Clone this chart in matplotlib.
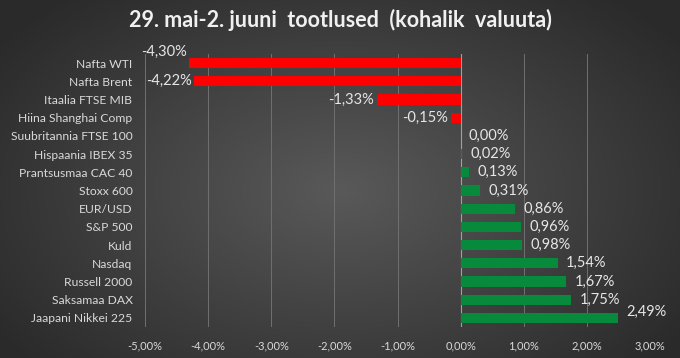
import numpy as np
import matplotlib
matplotlib.use("Agg")
import matplotlib.pyplot as plt
from matplotlib.colors import LinearSegmentedColormap

categories = ["Nafta WTI", "Nafta Brent", "Itaalia FTSE MIB", "Hiina Shanghai Comp",
              "Suubritannia FTSE 100", "Hispaania IBEX 35", "Prantsusmaa CAC 40",
              "Stoxx 600", "EUR/USD", "S&P 500", "Kuld", "Nasdaq", "Russell 2000",
              "Saksamaa DAX", "Jaapani Nikkei 225"]
values = [-4.30, -4.22, -1.33, -0.15, 0.00, 0.02, 0.13, 0.31, 0.86, 0.96, 0.98,
          1.54, 1.67, 1.75, 2.49]
xticks = [-5, -4, -3, -2, -1, 0, 1, 2, 3]
title = "29. mai-2. juuni  tootlused  (kohalik  valuuta)"

plt.rcParams['font.family'] = ['Lato', 'DejaVu Sans']

fig = plt.figure(figsize=(6.8, 3.58), dpi=100)

# radial gradient background
bg = fig.add_axes([0, 0, 1, 1], zorder=0)
yy, xx = np.mgrid[0:358, 0:680]
r = np.sqrt(((xx - 340) / 420.0) ** 2 + ((yy - 190) / 260.0) ** 2)
r = np.clip(r, 0, 1)
cmap = LinearSegmentedColormap.from_list("bg", ["#595959", "#2a2a2a"])
bg.imshow(r, cmap=cmap, aspect='auto', vmin=0, vmax=1, interpolation='bilinear')
bg.axis('off')

ax = fig.add_axes([145 / 680, 1 - 327 / 358, (650 - 145) / 680, (327 - 54) / 358], zorder=1)
ax.patch.set_alpha(0)

y = np.arange(len(categories))
colors = ["#ff0000" if v < 0 else "#078a3c" for v in values]
ax.barh(y, values, height=0.55, color=colors, zorder=3)

ax.set_xlim(-5, 3)
ax.set_ylim(len(categories) - 0.5, -0.5)
ax.set_xticks(xticks)
ax.set_xticklabels([f"{t:.2f}%".replace(".", ",") for t in xticks])
ax.set_yticks(y)
ax.set_yticklabels(categories)
ax.tick_params(axis='x', colors="#d9d9d9", labelsize=8, length=0, pad=10)
ax.tick_params(axis='y', colors="#d9d9d9", labelsize=8.75, length=0, pad=9)
for lbl in ax.get_xticklabels() + ax.get_yticklabels():
    lbl.set_color("#d9d9d9")

for s in ax.spines.values():
    s.set_visible(False)
ax.grid(axis='x', color="#707070", linewidth=0.7, zorder=0)
ax.axvline(0, color="#a0a0a0", linewidth=0.8, zorder=2)

label_dy = [8, 0, 0, 0, 0, 0, 0, 0, 0, 0, 0, 0, 0, 0, 4]
for i, v in enumerate(values):
    txt = f"{v:.2f}%".replace(".", ",")
    if v < 0:
        ax.annotate(txt, (v, i), xytext=(-2, label_dy[i]), textcoords='offset points',
                    ha='right', va='center', color="#e6e6e6", fontsize=10.5, zorder=4)
    else:
        ax.annotate(txt, (v, i), xytext=(6, label_dy[i]), textcoords='offset points',
                    ha='left', va='center', color="#e6e6e6", fontsize=10.5, zorder=4)

fig.text(0.5, 1 - 20 / 358, title, ha='center', va='center', color="#f0f0f0",
         fontsize=15.5, fontweight='bold')

fig.savefig("out.png", dpi=100)
